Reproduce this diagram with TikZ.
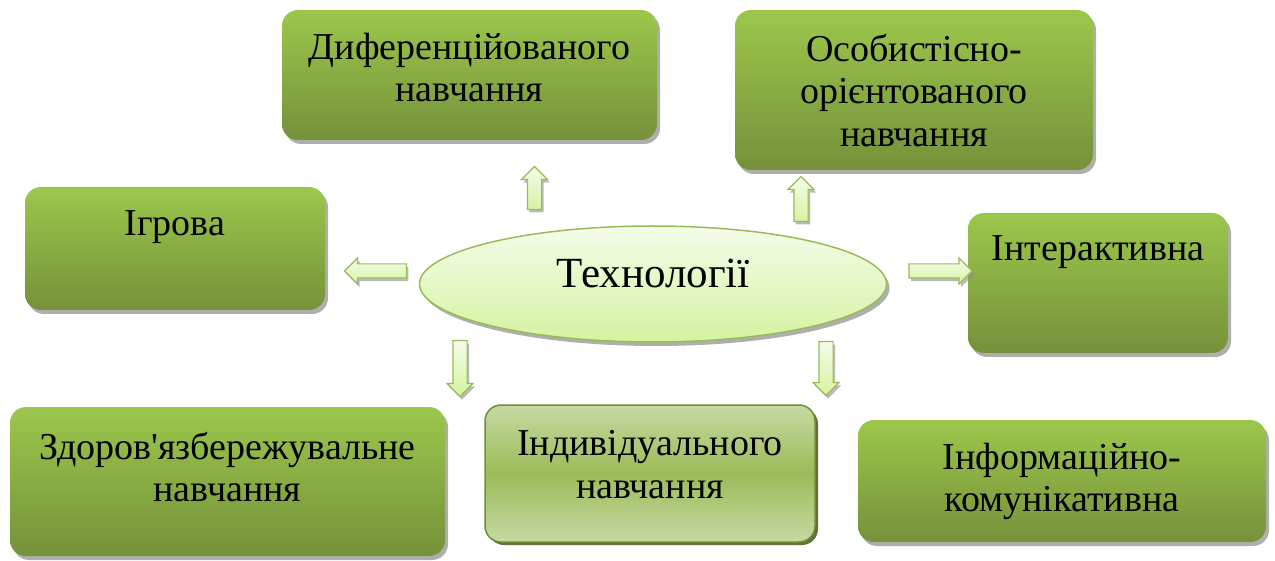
\documentclass[tikz,border=0pt]{standalone}
\usepackage{fontspec}
\setmainfont{Liberation Serif}
\usetikzlibrary{positioning}
\usetikzlibrary{shapes.geometric}
\usetikzlibrary{shapes.arrows}
\usetikzlibrary{shadows}

\definecolor{boxtop}{HTML}{9CC74C}
\definecolor{boxbot}{HTML}{75913A}
\definecolor{indtop}{HTML}{C6DAA2}
\definecolor{indmid}{HTML}{9BBB59}
\definecolor{indline}{HTML}{6F8E36}
\definecolor{elltop}{HTML}{F4FCEA}
\definecolor{ellbot}{HTML}{D5F3A0}
\definecolor{ellline}{HTML}{9BBB59}
\definecolor{shadowgray}{HTML}{8C8C8C}

\tikzset{
  gbox/.style 2 args={rectangle, rounded corners=16pt,
    minimum width=#1, minimum height=#2,
    top color=boxtop, bottom color=boxbot,
    drop shadow={shadow xshift=3pt, shadow yshift=-4pt, fill=shadowgray, opacity=.7}},
  indbox/.style 2 args={rectangle, rounded corners=16pt,
    minimum width=#1, minimum height=#2,
    top color=indtop, bottom color=indtop, middle color=indmid,
    draw=indline, line width=1.5pt,
    drop shadow={shadow xshift=3pt, shadow yshift=-3pt, fill=indline!70!black, opacity=.9}},
  boxtext/.style={font=\fontsize{38}{42.5}\selectfont, align=center, inner sep=0pt},
  techell/.style={ellipse, minimum width=467pt, minimum height=116pt,
    top color=elltop, bottom color=ellbot, draw=ellline, line width=1.5pt,
    font=\fontsize{43}{45}\selectfont, text height=29pt, text depth=22pt,
    drop shadow={shadow xshift=3pt, shadow yshift=-4pt, fill=shadowgray, opacity=.7}},
  barrow/.style={single arrow, draw=ellline, line width=1.2pt,
    top color=elltop, bottom color=ellbot,
    inner sep=6.5pt, single arrow head extend=6pt, minimum height=#1,
    drop shadow={shadow xshift=2pt, shadow yshift=-3pt, fill=shadowgray, opacity=.6}}
}

\begin{document}
\begin{tikzpicture}[x=1pt,y=-1pt]
  \useasboundingbox (0,0) rectangle (1275,561);

  % boxes
  \node[gbox={375pt}{130pt}] (dif) at (469.5,75) {};
  \node[gbox={358pt}{160pt}] (osob) at (914,90) {};
  \node[gbox={300pt}{123pt}] (igr) at (175,248.5) {};
  \node[gbox={260pt}{140pt}] (inter) at (1098,283) {};
  \node[gbox={435pt}{149pt}] (zdor) at (227.5,481.5) {};
  \node[indbox={330pt}{137pt}] (indiv) at (650,473.5) {};
  \node[gbox={408pt}{122pt}] (inform) at (1062,481) {};

  \node[boxtext, below=23pt of dif.north] (difText) {Диференційованого\\навчання};
  \node[boxtext, below=24pt of osob.north] (osobText) {Особистісно-\\орієнтованого\\навчання};
  \node[boxtext, below=24pt of igr.north] (igrText) {Ігрова};
  \node[boxtext, below=23pt of inter.north] (interText) {Інтерактивна};
  \node[boxtext, below=25pt of zdor.north] (zdorText) {Здоров\textquotesingle язбережувальне\\навчання};
  \node[boxtext, below=26pt of indiv.north] (indivText) {Індивідуального\\навчання};
  \node[boxtext, below=23pt of inform.north] (informText) {Інформаційно-\\комунікативна};

  % centre
  \node[techell] (tech) at (653,284) {Технології};

  % block arrows
  \node[barrow=43pt, shape border rotate=90] (arrDif) at (534.5,191.5) {};
  \node[barrow=45pt, shape border rotate=90] (arrOsob) at (801,202.5) {};
  \node[barrow=62pt, shape border rotate=180] (arrIgr) at (379,271) {};
  \node[barrow=63pt] (arrInter) at (937,271) {};
  \node[barrow=56pt, shape border rotate=270] (arrZdor) at (460,365) {};
  \node[barrow=54pt, shape border rotate=270] (arrInform) at (826,365) {};
\end{tikzpicture}
\end{document}
